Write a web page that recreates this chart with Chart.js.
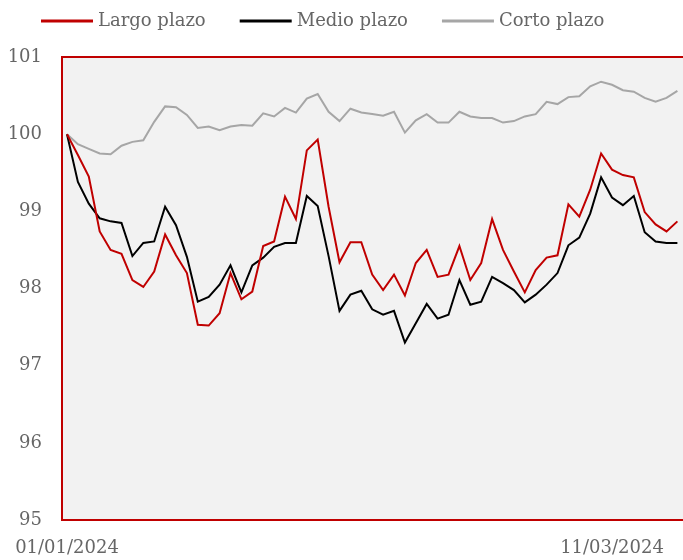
<!DOCTYPE html>
<html>
<head>
<meta charset="utf-8">
<script src="https://cdn.jsdelivr.net/npm/chart.js@4.4.1/dist/chart.umd.min.js"></script>
<style>
  html, body { margin: 0; padding: 0; background: #ffffff; overflow: hidden; }
  #wrap { width: 683px; height: 560px; }
</style>
</head>
<body>
<div id="wrap"><canvas id="curveChart" width="683" height="560"></canvas></div>
<script>
// business days, 01/01/2024 .. 19/03/2024
const dates = [
  '01/01/2024', '02/01/2024', '03/01/2024', '04/01/2024', '05/01/2024',
  '08/01/2024', '09/01/2024', '10/01/2024', '11/01/2024', '12/01/2024',
  '15/01/2024', '16/01/2024', '17/01/2024', '18/01/2024', '19/01/2024',
  '22/01/2024', '23/01/2024', '24/01/2024', '25/01/2024', '26/01/2024',
  '29/01/2024', '30/01/2024', '31/01/2024',
  '01/02/2024', '02/02/2024', '05/02/2024', '06/02/2024', '07/02/2024',
  '08/02/2024', '09/02/2024', '12/02/2024', '13/02/2024', '14/02/2024',
  '15/02/2024', '16/02/2024', '19/02/2024', '20/02/2024', '21/02/2024',
  '22/02/2024', '23/02/2024', '26/02/2024', '27/02/2024', '28/02/2024',
  '29/02/2024',
  '01/03/2024', '04/03/2024', '05/03/2024', '06/03/2024', '07/03/2024',
  '08/03/2024', '11/03/2024', '12/03/2024', '13/03/2024', '14/03/2024',
  '15/03/2024', '18/03/2024', '19/03/2024'
];
const shownDates = ['01/01/2024', '11/03/2024'];

const largo = [
  100.0, 99.73, 99.45, 98.74, 98.50, 98.45, 98.11, 98.02, 98.22, 98.70,
  98.43, 98.20, 97.53, 97.52, 97.68, 98.20, 97.86, 97.96, 98.55, 98.61,
  99.19, 98.90, 99.79, 99.93, 99.06, 98.34, 98.60, 98.60, 98.18, 97.98,
  98.18, 97.91, 98.33, 98.50, 98.15, 98.18, 98.55, 98.11, 98.33, 98.90,
  98.50, 98.22, 97.95, 98.24, 98.40, 98.43, 99.09, 98.93, 99.28, 99.75,
  99.54, 99.47, 99.44, 98.99, 98.83, 98.74, 98.87
];
const medio = [
  100.0, 99.38, 99.10, 98.91, 98.87, 98.85, 98.42, 98.59, 98.61, 99.06,
  98.82, 98.41, 97.83, 97.89, 98.05, 98.30, 97.95, 98.30, 98.40, 98.54,
  98.59, 98.59, 99.20, 99.07, 98.42, 97.71, 97.92, 97.97, 97.73, 97.66,
  97.71, 97.30, 97.55, 97.80, 97.61, 97.66, 98.11, 97.79, 97.83, 98.15,
  98.07, 97.98, 97.82, 97.92, 98.05, 98.20, 98.56, 98.66, 98.97, 99.44,
  99.18, 99.08, 99.20, 98.73, 98.61, 98.59, 98.59
];
const corto = [
  100.0, 99.87, 99.81, 99.75, 99.74, 99.85, 99.90, 99.92, 100.16, 100.36,
  100.35, 100.25, 100.08, 100.10, 100.05, 100.10, 100.12, 100.11, 100.27, 100.23,
  100.34, 100.28, 100.46, 100.52, 100.29, 100.17, 100.33, 100.28, 100.26, 100.24,
  100.29, 100.02, 100.18, 100.26, 100.15, 100.15, 100.29, 100.23, 100.21, 100.21,
  100.15, 100.17, 100.23, 100.26, 100.42, 100.39, 100.48, 100.49, 100.62, 100.68,
  100.64, 100.57, 100.55, 100.47, 100.42, 100.47, 100.56
];

const FONT = '"DejaVu Serif", "Liberation Serif", serif';
const TEXT = '#666666';
const RED = '#c00000';

// light grey plot panel with a red frame (top, left, bottom; right side runs off the picture)
const panelPlugin = {
  id: 'panel',
  beforeDatasetsDraw(chart) {
    const { ctx, chartArea: a, width } = chart;
    const left = a.left - 5;
    ctx.save();
    ctx.fillStyle = '#f2f2f2';
    ctx.fillRect(left, a.top, width - left, a.bottom - a.top);
    ctx.strokeStyle = RED;
    ctx.lineWidth = 2;
    ctx.beginPath();
    ctx.moveTo(width + 2, a.top);
    ctx.lineTo(left, a.top);
    ctx.lineTo(left, a.bottom);
    ctx.lineTo(width + 2, a.bottom);
    ctx.stroke();
    ctx.restore();
  }
};

const legendPlugin = {
  id: 'lineLegend',
  afterDraw(chart) {
    const { ctx } = chart;
    let x = 41;
    const y = 21;
    ctx.save();
    ctx.font = '18px ' + FONT;
    ctx.textBaseline = 'middle';
    chart.data.datasets.forEach((ds) => {
      ctx.strokeStyle = ds.borderColor;
      ctx.lineWidth = 3;
      ctx.beginPath();
      ctx.moveTo(x, y);
      ctx.lineTo(x + 52, y);
      ctx.stroke();
      ctx.fillStyle = TEXT;
      ctx.fillText(ds.label, x + 57, y);
      x += 57 + ctx.measureText(ds.label).width + 34;
    });
    ctx.restore();
  }
};

new Chart(document.getElementById('curveChart'), {
  type: 'line',
  data: {
    labels: dates,
    datasets: [
      { label: 'Largo plazo', data: largo, borderColor: RED },
      { label: 'Medio plazo', data: medio, borderColor: '#000000' },
      { label: 'Corto plazo', data: corto, borderColor: '#a6a6a6' }
    ]
  },
  options: {
    responsive: false,
    animation: false,
    layout: { padding: { top: 57, right: 5.6, left: 0, bottom: 0 } },
    elements: {
      line: { borderWidth: 2, tension: 0 },
      point: { radius: 0 }
    },
    plugins: {
      legend: { display: false },
      tooltip: { enabled: false }
    },
    scales: {
      x: {
        offset: false,
        grid: { display: false, drawTicks: false },
        border: { display: false },
        afterFit(scale) {
          scale.height = 40;
          scale.paddingLeft = 0;
          scale.paddingRight = 0;
        },
        ticks: {
          autoSkip: false,
          maxRotation: 0,
          padding: 18,
          color: TEXT,
          font: { family: FONT, size: 18 },
          callback(value, index) {
            const d = dates[index];
            return shownDates.includes(d) ? d : '';
          }
        }
      },
      y: {
        min: 95,
        max: 101,
        grid: { display: false, drawTicks: false },
        border: { display: false },
        afterFit(scale) {
          scale.width = 67;
          scale.paddingTop = 0;
          scale.paddingBottom = 0;
        },
        ticks: {
          stepSize: 1,
          padding: 25,
          color: TEXT,
          font: { family: FONT, size: 18 }
        }
      }
    }
  },
  plugins: [panelPlugin, legendPlugin]
});
</script>
</body>
</html>
